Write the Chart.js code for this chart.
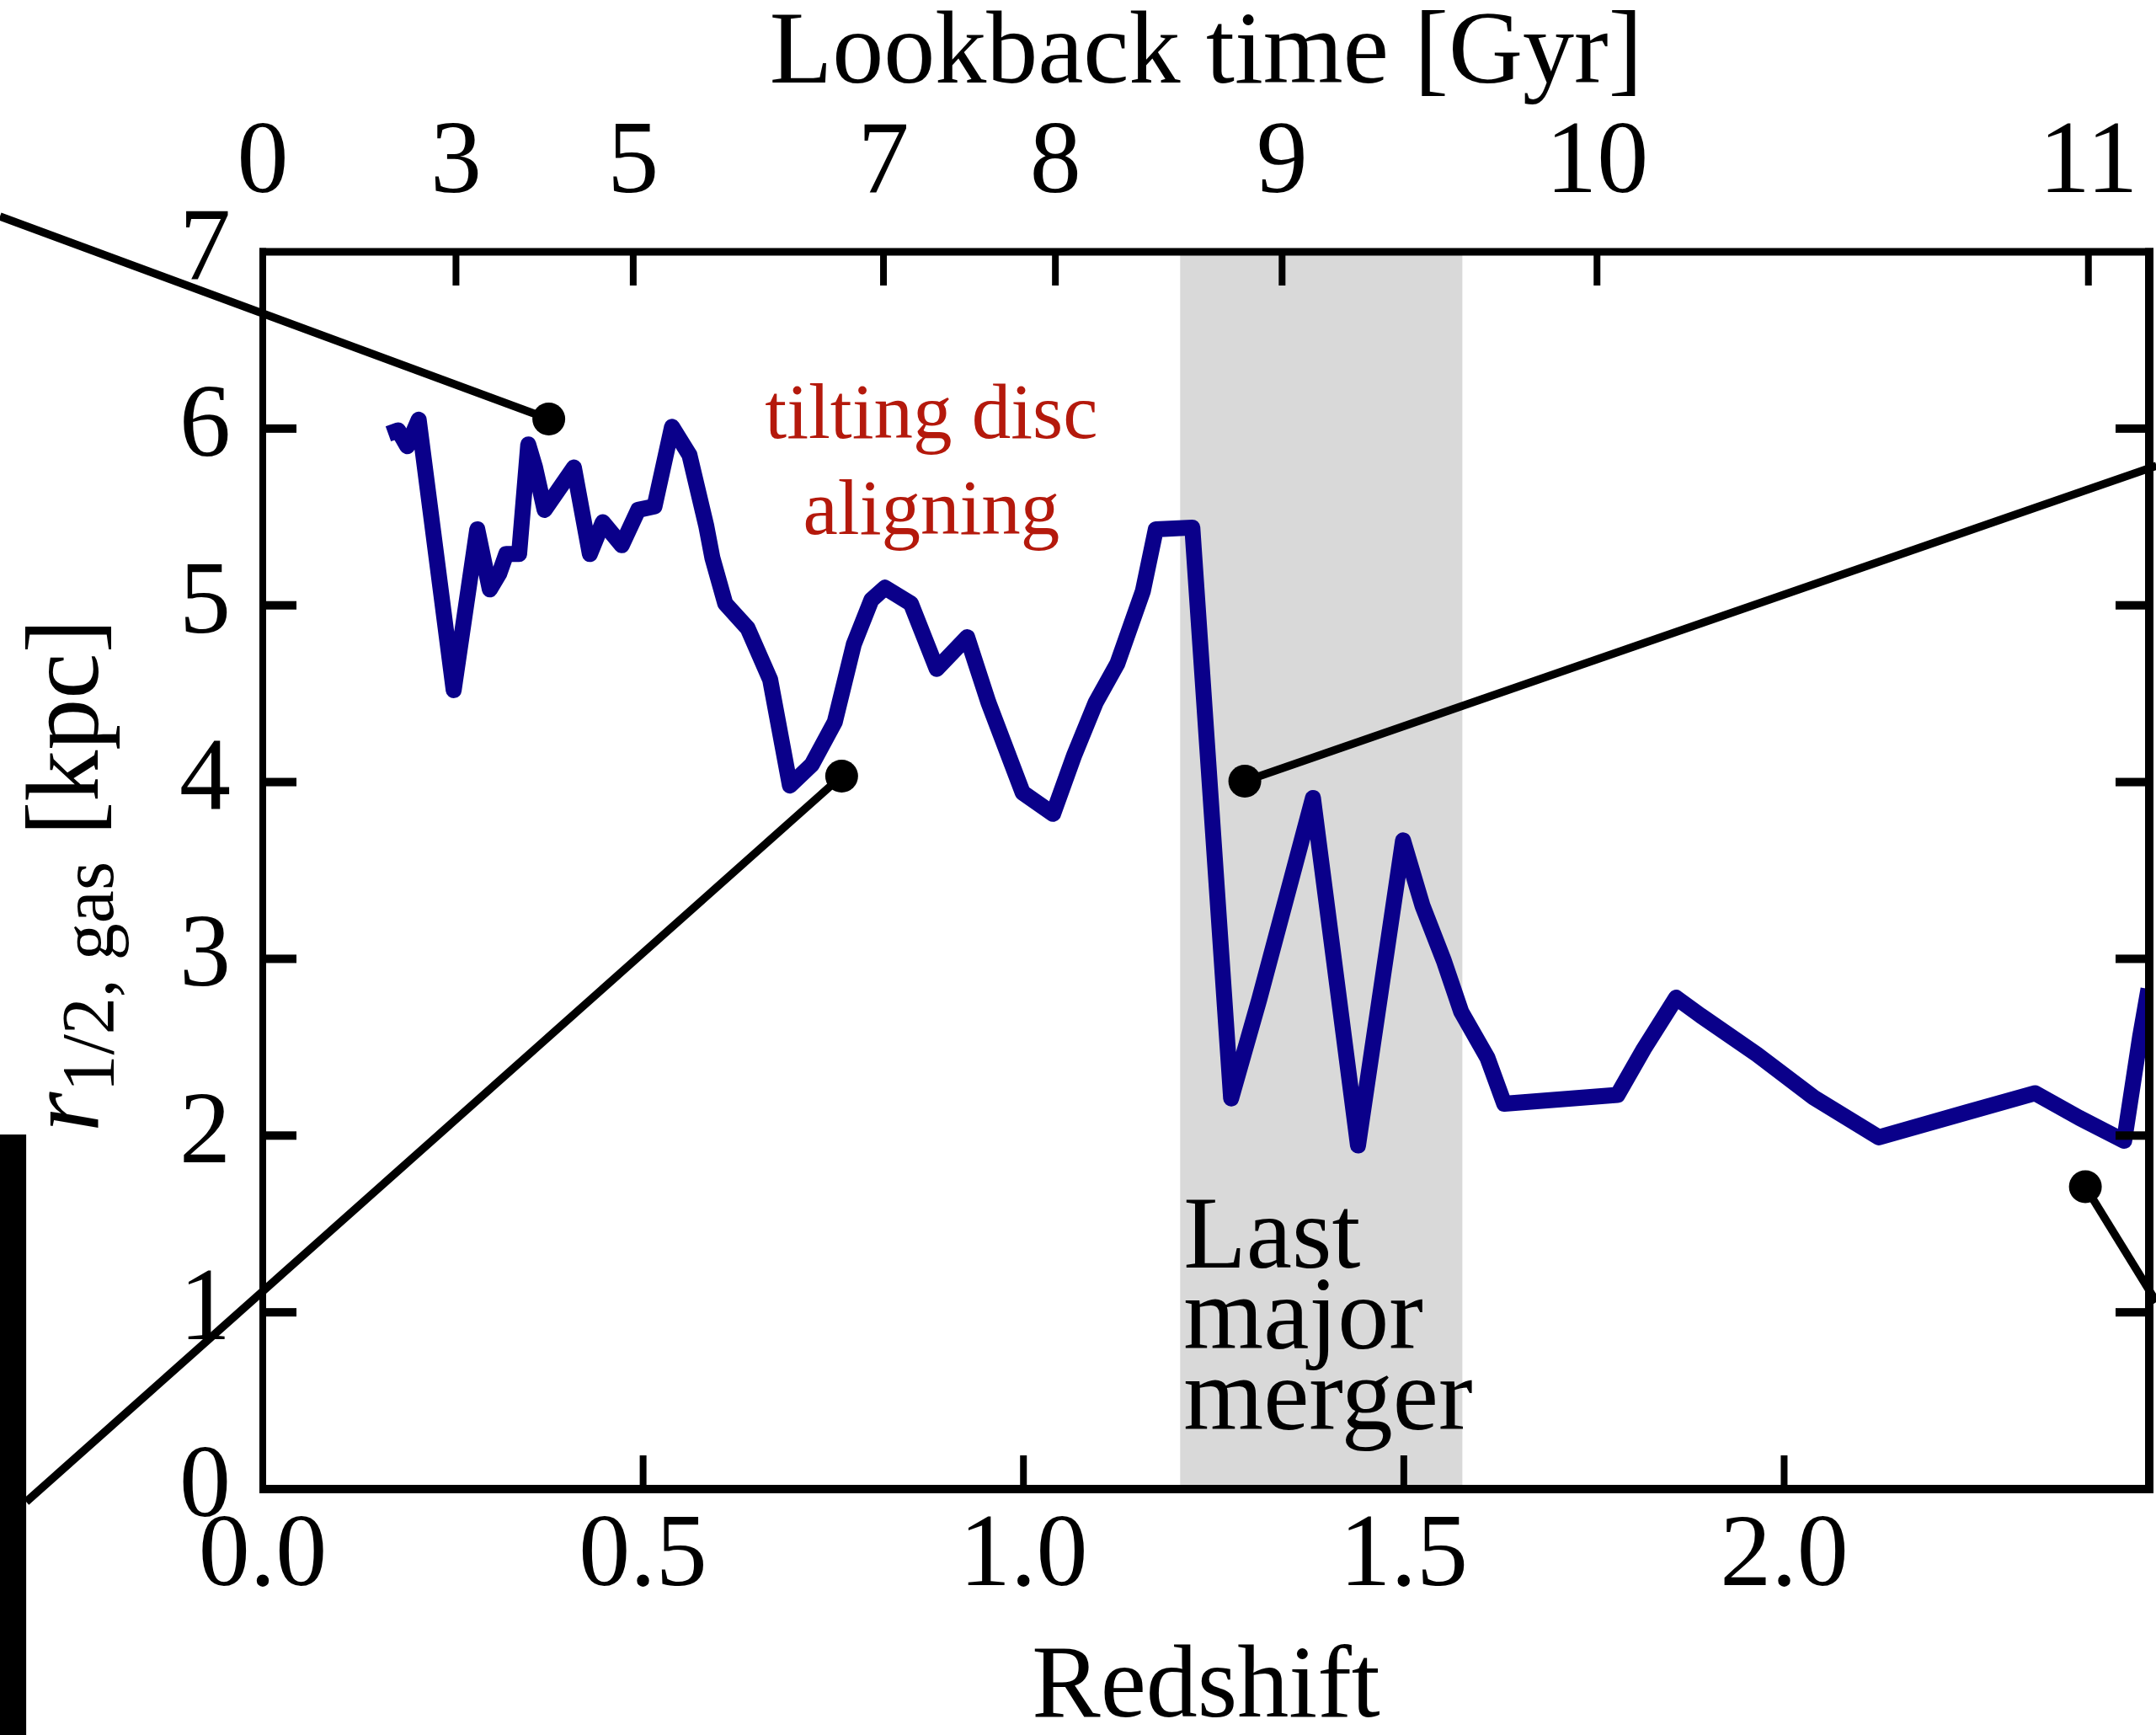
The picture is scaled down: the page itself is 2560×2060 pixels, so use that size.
<!DOCTYPE html>
<html>
<head>
<meta charset="utf-8">
<title>Gas half-mass radius vs redshift</title>
<script src="https://cdn.jsdelivr.net/npm/chart.js@4/dist/chart.umd.min.js"></script>
<style>
  html, body { margin: 0; padding: 0; background: #fff; }
  canvas { display: block; }
</style>
</head>
<body>
<canvas id="chart" width="2560" height="2060"></canvas>
<script>
// Gas half-mass radius of the simulated galaxy as a function of redshift
const redshift = [
  0.165, 0.178, 0.190, 0.205, 0.251, 0.282, 0.2985, 0.311, 0.320, 0.337,
  0.349, 0.358, 0.3705, 0.409, 0.430, 0.447, 0.472, 0.4935, 0.515, 0.538,
  0.561, 0.583, 0.591, 0.608, 0.6375, 0.667, 0.693, 0.722, 0.752, 0.777,
  0.800, 0.818, 0.852, 0.886, 0.926, 0.954, 0.999, 1.039, 1.067, 1.095,
  1.1235, 1.157, 1.174, 1.222, 1.273, 1.310, 1.3806, 1.4398, 1.499, 1.5246,
  1.5526, 1.5755, 1.610, 1.632, 1.781, 1.8155, 1.858, 1.890, 1.964, 2.039,
  2.1245, 2.239, 2.330, 2.388, 2.447, 2.468, 2.479
];
const rHalfGas = [
  5.97, 5.99, 5.90, 6.05, 4.52, 5.43, 5.09, 5.18, 5.29, 5.29,
  5.91, 5.78, 5.54, 5.78, 5.29, 5.47, 5.34, 5.54, 5.56, 6.01,
  5.85, 5.45, 5.27, 5.01, 4.87, 4.58, 3.98, 4.10, 4.34, 4.78,
  5.03, 5.10, 5.01, 4.64, 4.82, 4.45, 3.94, 3.82, 4.155, 4.45,
  4.67, 5.08, 5.43, 5.44, 2.21, 2.77, 3.91, 1.944, 3.67, 3.30,
  2.99, 2.70, 2.44, 2.18, 2.23, 2.49, 2.78, 2.68, 2.46, 2.215,
  1.99, 2.13, 2.24, 2.10, 1.97, 2.56, 2.83
];

// Axis ticks
const redshiftTicks = [0.0, 0.5, 1.0, 1.5, 2.0];
const radiusTicks = [0, 1, 2, 3, 4, 5, 6, 7];
const lookbackGyr = ['0', '3', '5', '7', '8', '9', '10', '11'];
const lookbackRedshift = [0, 0.254, 0.487, 0.816, 1.042, 1.340, 1.754, 2.400];

// Redshift window of the last major merger
const mergerWindow = [1.206, 1.577];

// Leader lines from selected epochs towards the snapshot panels (data units)
const leaderLines = [
  { from: [0.376, 6.054], to: [-0.3455, 7.20] },
  { from: [1.291, 4.005], to: [2.4895, 5.79] },
  { from: [0.761, 4.034], to: [-0.311, -0.072] },
  { from: [2.396, 1.711], to: [2.4895, 1.058] }
];
// Edge of the neighbouring panel frame (data units)
const panelEdge = { x: [-0.3455, -0.311], y: [2.006, -1.40] };

const X_MIN = 0, X_MAX = 2.48, Y_MIN = 0, Y_MAX = 7;
const SERIF = "'Liberation Serif', 'DejaVu Serif', serif";
const FONT_PX = 122;

function fixBox(size, horizontal) {
  return (s) => {
    if (horizontal) { s.height = size; s.paddingLeft = 0; s.paddingRight = 0; }
    else { s.width = size; s.paddingTop = 0; s.paddingBottom = 0; }
  };
}

function drawYTitle(ctx, ca) {
  const parts = [
    { t: 'r', f: `italic ${FONT_PX}px ${SERIF}`, dy: 0 },
    { t: '1/2, gas', f: `88px ${SERIF}`, dy: 18 },
    { t: ' [kpc]', f: `${FONT_PX}px ${SERIF}`, dy: 0 }
  ];
  ctx.save();
  let total = 0;
  parts.forEach(p => { ctx.font = p.f; p.w = ctx.measureText(p.t).width; total += p.w; });
  ctx.translate(116, (ca.top + ca.bottom) / 2 + 6);
  ctx.rotate(-Math.PI / 2);
  ctx.textBaseline = 'alphabetic';
  ctx.textAlign = 'left';
  ctx.fillStyle = '#000';
  let x = -total / 2;
  parts.forEach(p => { ctx.font = p.f; ctx.fillText(p.t, x, p.dy); x += p.w; });
  ctx.restore();
}

const decorations = {
  id: 'decorations',
  beforeDatasetsDraw(chart) {
    const { ctx, chartArea: ca, scales: { x, y } } = chart;
    const b0 = x.getPixelForValue(mergerWindow[0]);
    const b1 = x.getPixelForValue(mergerWindow[1]);
    ctx.save();
    ctx.fillStyle = '#d9d9d9';
    ctx.fillRect(b0, ca.top, b1 - b0, ca.bottom - ca.top);

    // merger label, left-aligned on the shaded window
    ctx.fillStyle = '#000';
    ctx.font = `${FONT_PX}px ${SERIF}`;
    ctx.textAlign = 'left';
    ctx.textBaseline = 'alphabetic';
    ['Last', 'major', 'merger'].forEach((w, i) => {
      ctx.fillText(w, b0 + 4, y.getPixelForValue(1.253 - i * 0.457));
    });

    // tilting disc note
    ctx.fillStyle = '#b4190c';
    ctx.font = `93px ${SERIF}`;
    ctx.textAlign = 'center';
    const nx = x.getPixelForValue(0.879);
    ctx.fillText('tilting disc', nx, y.getPixelForValue(5.947));
    ctx.fillText('aligning', nx, y.getPixelForValue(5.404));
    ctx.restore();
  },
  afterDatasetsDraw(chart) {
    const { ctx, chartArea: ca, scales: { x, y } } = chart;
    ctx.save();
    ctx.fillStyle = '#000';

    // frame
    const L = ca.left, R = ca.right, T = ca.top, B = ca.bottom;
    ctx.fillRect(L - 4, T - 4.5, R - L + 9, 9);
    ctx.fillRect(L - 4, B - 5, R - L + 9, 10);
    ctx.fillRect(L - 4, T - 4.5, 8, B - T + 9.5);
    ctx.fillRect(R - 5, T - 4.5, 10, B - T + 9.5);

    // inward tick marks
    const TL = 40;
    redshiftTicks.filter(v => v > X_MIN && v < X_MAX).forEach(v => {
      const px = x.getPixelForValue(v);
      ctx.fillRect(px - 4, B - TL, 8, TL);
    });
    lookbackRedshift.filter(v => v > X_MIN && v < X_MAX).forEach(v => {
      const px = x.getPixelForValue(v);
      ctx.fillRect(px - 4, T, 8, TL);
    });
    radiusTicks.filter(v => v > Y_MIN && v < Y_MAX).forEach(v => {
      const py = y.getPixelForValue(v);
      ctx.fillRect(L, py - 5, TL, 10);
      ctx.fillRect(R - TL, py - 5, TL, 10);
    });

    // leader lines with end dots
    ctx.strokeStyle = '#000';
    ctx.lineWidth = 9.5;
    ctx.lineCap = 'butt';
    leaderLines.forEach(l => {
      const fx = x.getPixelForValue(l.from[0]), fy = y.getPixelForValue(l.from[1]);
      const tx = x.getPixelForValue(l.to[0]), ty = y.getPixelForValue(l.to[1]);
      ctx.beginPath();
      ctx.moveTo(fx, fy);
      ctx.lineTo(tx, ty);
      ctx.stroke();
      ctx.beginPath();
      ctx.arc(fx, fy, 19.5, 0, Math.PI * 2);
      ctx.fill();
    });

    // neighbouring panel edge
    const ex0 = x.getPixelForValue(panelEdge.x[0]), ex1 = x.getPixelForValue(panelEdge.x[1]);
    const ey0 = y.getPixelForValue(panelEdge.y[0]), ey1 = y.getPixelForValue(panelEdge.y[1]);
    ctx.fillRect(ex0, ey0, ex1 - ex0, ey1 - ey0);
    ctx.restore();

    drawYTitle(ctx, ca);
  }
};

const tickFont = { family: SERIF, size: FONT_PX };

new Chart(document.getElementById('chart'), {
  type: 'line',
  data: {
    datasets: [{
      data: redshift.map((z, i) => ({ x: z, y: rHalfGas[i] })),
      borderColor: '#0a008a',
      borderWidth: 19,
      borderJoinStyle: 'round',
      borderCapStyle: 'butt',
      pointRadius: 0,
      tension: 0,
      fill: false,
      xAxisID: 'x',
      yAxisID: 'y'
    }]
  },
  options: {
    responsive: false,
    devicePixelRatio: 1,
    animation: false,
    layout: { padding: 0 },
    plugins: { legend: { display: false }, tooltip: { enabled: false } },
    scales: {
      x: {
        type: 'linear', position: 'bottom', min: X_MIN, max: X_MAX,
        grid: { display: false, drawTicks: false }, border: { display: false },
        afterBuildTicks: (s) => { s.ticks = redshiftTicks.map(v => ({ value: v })); },
        ticks: {
          autoSkip: false, maxRotation: 0, padding: 9, color: '#000', font: tickFont,
          callback: (v) => Number(v).toFixed(1)
        },
        title: {
          display: true, text: 'Redshift', color: '#000',
          font: { family: SERIF, size: FONT_PX, lineHeight: 0.8 },
          padding: { top: 0, bottom: 5 }
        },
        afterFit: fixBox(292, true)
      },
      x2: {
        type: 'linear', position: 'top', min: X_MIN, max: X_MAX,
        grid: { display: false, drawTicks: false }, border: { display: false },
        afterBuildTicks: (s) => { s.ticks = lookbackRedshift.map(v => ({ value: v })); },
        ticks: {
          autoSkip: false, maxRotation: 0, padding: 30, color: '#000', font: tickFont,
          callback: (v, i) => lookbackGyr[i]
        },
        title: {
          display: true, text: 'Lookback time [Gyr]', color: '#000',
          font: { family: SERIF, size: FONT_PX, lineHeight: 0.8 },
          padding: { top: 17, bottom: 0 }
        },
        afterFit: fixBox(299, true)
      },
      y: {
        type: 'linear', position: 'left', min: Y_MIN, max: Y_MAX,
        grid: { display: false, drawTicks: false }, border: { display: false },
        afterBuildTicks: (s) => { s.ticks = radiusTicks.map(v => ({ value: v })); },
        ticks: { autoSkip: false, padding: 38, color: '#000', font: tickFont },
        afterFit: fixBox(312, false)
      },
      y2: {
        type: 'linear', position: 'right', min: Y_MIN, max: Y_MAX,
        grid: { display: false, drawTicks: false }, border: { display: false },
        ticks: { display: false },
        afterFit: fixBox(8, false)
      }
    }
  },
  plugins: [decorations]
});
</script>
</body>
</html>
